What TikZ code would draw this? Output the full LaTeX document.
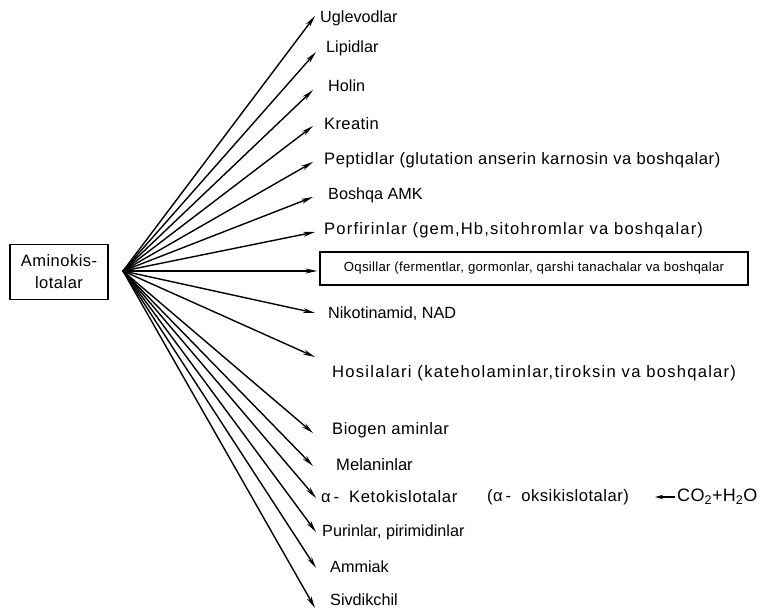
\documentclass[tikz,border=0pt]{standalone}
\usepackage{fontspec}
\setmainfont{Liberation Sans}
\usetikzlibrary{arrows.meta, positioning}

\begin{document}
\begin{tikzpicture}[
    x=1pt, y=-1pt,
    % Stili
    src/.style={rectangle, draw=black, line width=1.3pt, minimum width=98pt, minimum height=55pt, align=center, font=\fontsize{16.5}{22}\selectfont\addfontfeature{LetterSpace=3}},
    prod/.style={anchor=west, inner sep=0pt, font=\fontsize{16.2}{19}\selectfont},
    wide/.style={prod, font=\fontsize{16.6}{19}\selectfont\addfontfeature{LetterSpace=#1}},
    prodbox/.style={rectangle, draw=black, line width=1.3pt, minimum width=428pt, minimum height=33pt, inner sep=0pt, font=\fontsize{13.2}{15}\selectfont\addfontfeature{LetterSpace=2}},
    arrow/.style={-{Stealth[length=12pt, width=5pt]}, line width=1.4pt}
]
    \useasboundingbox (0,0) rectangle (762,613);

    % ==================== SORGENTE ====================
    \node [src] (amk) at (59,272) {Aminokis-\\lotalar};
    \coordinate (hub) at (123,271);

    % ==================== PRODOTTI ====================
    \node [prod] (ugl) at (320,18)  {Uglevodlar};
    \node [prod] (lip) at (326,48)  {Lipidlar};
    \node [prod] (hol) at (328,86)  {Holin};
    \node [wide=2] (kre) at (324,124) {Kreatin};
    \node [wide=3.5] (pep) at (324,160) {Peptidlar (glutation anserin karnosin va boshqalar)};
    \node [prod] (bos) at (328,195) {Boshqa AMK};
    \node [wide=7] (por) at (324,230) {Porfirinlar (gem,Hb,sitohromlar va boshqalar)};
    \node [prodbox] (oqs) at (534,268.5) {Oqsillar (fermentlar, gormonlar, qarshi tanachalar va boshqalar};
    \node [prod] (nik) at (328,314) {Nikotinamid, NAD};
    \node [wide=7.5] (hos) at (332,373) {Hosilalari (kateholaminlar,tiroksin va boshqalar)};
    \node [wide=3] (bio) at (332,430) {Biogen aminlar};
    \node [wide=0] (mel) at (336,465) {Melaninlar};
    \node [wide=4] (ket) at (321,497) {α\,-\hspace{10pt}Ketokislotalar};
    \node [wide=3] (oks) at (487,497) {(α\,-\ \ oksikislotalar)};
    \node [prod, font=\fontsize{18}{20}\selectfont\addfontfeature{LetterSpace=2}] (co2) at (677,497) {CO\textsubscript{2}+H\textsubscript{2}O};
    \node [prod] (pur) at (322,532) {Purinlar, pirimidinlar};
    \node [prod] (amm) at (330,567) {Ammiak};
    \node [prod] (siv) at (330,600) {Sivdikchil};

    % Frecce dalla sorgente
    \draw [arrow] (hub) -- ([xshift=-5pt, yshift=2pt]ugl.west);
    \draw [arrow] (hub) -- ([xshift=-10pt, yshift=-4pt]lip.west);
    \draw [arrow] (hub) -- ([xshift=-15pt, yshift=-4pt]hol.west);
    \draw [arrow] (hub) -- ([xshift=-11pt, yshift=-2pt]kre.west);
    \draw [arrow] (hub) -- ([xshift=-11pt, yshift=-2pt]pep.west);
    \draw [arrow] (hub) -- ([xshift=-15pt, yshift=-2pt]bos.west);
    \draw [arrow] (hub) -- ([xshift=-9pt, yshift=-2pt]por.west);
    \draw [arrow] (hub) -- ([xshift=-2pt, yshift=-2.5pt]oqs.west);
    \draw [arrow] (hub) -- ([xshift=-13pt, yshift=1pt]nik.west);
    \draw [arrow] (hub) -- ([xshift=-17pt, yshift=16pt]hos.west);
    \draw [arrow] (hub) -- ([xshift=-19pt, yshift=-3pt]bio.west);
    \draw [arrow] (hub) -- ([xshift=-23pt, yshift=-1pt]mel.west);
    \draw [arrow] (hub) -- ([xshift=-5pt, yshift=-1pt]ket.west);
    \draw [arrow] (hub) -- ([xshift=-6pt]pur.west);
    \draw [arrow] (hub) -- ([xshift=-14pt, yshift=-1pt]amm.west);
    \draw [arrow] (hub) -- ([xshift=-15pt, yshift=-8pt]siv.west);

    % Freccia verso gli ossiacidi
    \draw [-{Stealth[length=8pt, width=4.5pt]}, line width=1.2pt, shorten <=2pt, shorten >=26pt] (co2.west) -- (oks.east);

\end{tikzpicture}
\end{document}
